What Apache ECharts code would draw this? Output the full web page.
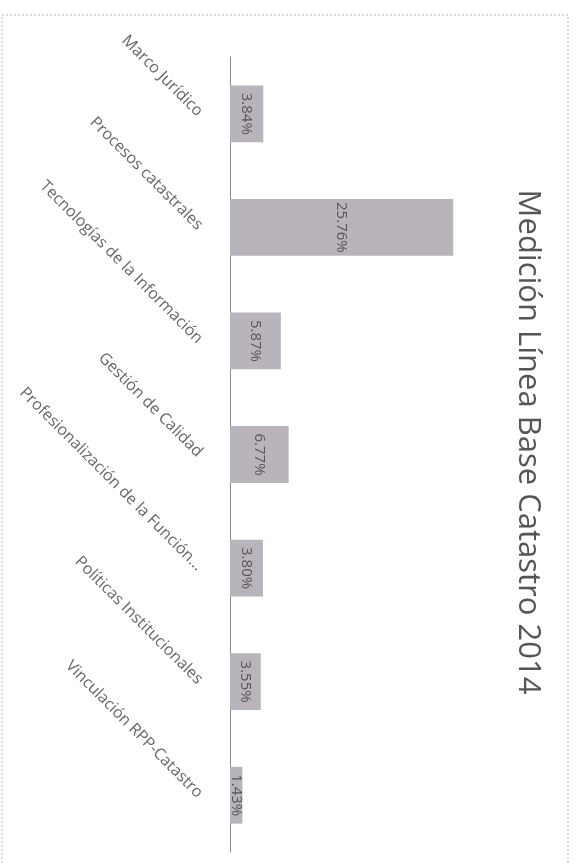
<!DOCTYPE html>
<html>
<head>
<meta charset="utf-8">
<script src="https://cdn.jsdelivr.net/npm/echarts@6/dist/echarts.min.js"></script>
<style>
  html, body { margin: 0; padding: 0; background: #ffffff; }
  #chart { width: 578px; height: 863px; }
</style>
</head>
<body>
<div id="chart"></div>
<script>
// Areas of the 2014 cadastre baseline measurement and their scores (%)
const categories = [
  'Marco Jurídico',
  'Procesos catastrales',
  'Tecnologías de la Información',
  'Gestión de Calidad',
  'Profesionalización de la Función…',
  'Políticas Institucionales',
  'Vinculación RPP-Catastro'
];
const values = [3.84, 25.76, 5.87, 6.77, 3.80, 3.55, 1.43];
const titleText = 'Medición Línea Base Catastro 2014';

const FONT = '"Open Sans", "Liberation Sans", sans-serif';
const chart = echarts.init(document.getElementById('chart'), null, { renderer: 'canvas' });

chart.setOption({
  animation: false,
  backgroundColor: '#ffffff',
  grid: { left: 230, top: 57, width: 260, height: 795, containLabel: false },
  xAxis: {
    type: 'value',
    min: 0,
    max: 30,
    show: false
  },
  yAxis: {
    type: 'category',
    inverse: true,
    data: categories,
    axisLine: { show: true, lineStyle: { color: '#8c8c8c', width: 1 } },
    axisTick: { show: false },
    splitLine: { show: false },
    axisLabel: {
      rotate: -45,
      margin: 30,
      color: '#666666',
      fontFamily: FONT,
      fontSize: 16
    }
  },
  series: [{
    type: 'bar',
    data: values,
    barCategoryGap: '50%',
    itemStyle: { color: '#b9b4bc' },
    label: {
      show: true,
      position: 'inside',
      rotate: -90,
      color: '#555555',
      fontFamily: FONT,
      fontSize: 15,
      formatter: p => p.value.toFixed(2) + '%'
    }
  }],
  graphic: [
    {
      type: 'rect',
      silent: true,
      shape: { x: 2, y: 15, width: 566, height: 860 },
      style: { fill: 'none', stroke: '#b5b5b5', lineWidth: 1, lineDash: [2, 2] }
    },
    {
      type: 'text',
      silent: true,
      x: 528,
      y: 442,
      rotation: -Math.PI / 2,
      style: {
        text: titleText,
        fill: '#555555',
        font: '31px ' + FONT,
        align: 'center',
        verticalAlign: 'middle'
      }
    }
  ]
});
</script>
</body>
</html>
